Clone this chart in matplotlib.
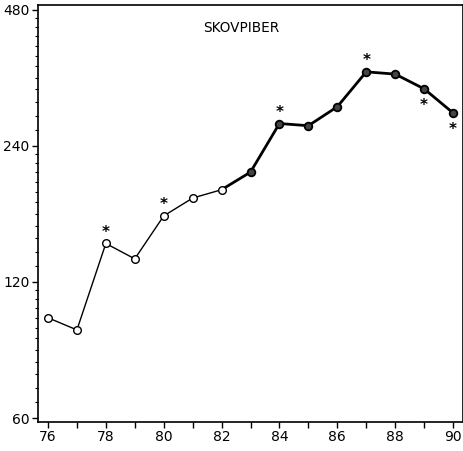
import matplotlib
matplotlib.use("Agg")
import matplotlib.pyplot as plt
from matplotlib.ticker import FixedLocator, NullFormatter
import numpy as np

years = [76, 77, 78, 79, 80, 81, 82, 83, 84, 85, 86, 87, 88, 89, 90]
values = [100, 94, 146, 135, 168, 184, 192, 210, 269, 266, 293, 350, 346, 321, 284]
star_years_above = [78, 80, 84, 87]
star_years_below = [89, 90]
title = "SKOVPIBER"
yticks = [60, 120, 240, 480]

fig = plt.figure(figsize=(4.64, 4.51), dpi=100)
ax = fig.add_axes([38/464, 1-422/451, (463-38)/464, (422-5)/451])
ax.set_yscale("log")
ax.set_xlim(75.655, 90.345)
ax.set_ylim(58.8, 492)

yr = np.array(years)
vals = np.array(values, dtype=float)
split = years.index(82)
ax.plot(yr[:split+1], vals[:split+1], color="black", lw=1.0, zorder=2)
ax.plot(yr[split:], vals[split:], color="black", lw=2.0, zorder=2)
ax.plot(yr[:split+1], vals[:split+1], ls="none", marker="o", ms=5.5,
        mfc="white", mec="black", mew=1.0, zorder=3)
ax.plot(yr[split+1:], vals[split+1:], ls="none", marker="o", ms=5.5,
        mfc="#444444", mec="black", mew=1.3, zorder=3)

for y in star_years_above:
    v = values[years.index(y)]
    ax.text(y, v * 2 ** (11/136), "*", ha="center", va="center", fontsize=11, fontweight="bold")
for y in star_years_below:
    v = values[years.index(y)]
    ax.text(y, v * 2 ** (-17/136), "*", ha="center", va="center", fontsize=11, fontweight="bold")

ax.text(0.479, 0.945, title, transform=ax.transAxes, ha="center", va="center",
        fontsize=9.8, family="DejaVu Sans")

ax.yaxis.set_major_locator(FixedLocator(yticks))
ax.set_yticklabels([str(t) for t in yticks])
minors = list(range(65, 120, 5)) + list(range(130, 240, 10)) + list(range(260, 480, 20))
ax.yaxis.set_minor_locator(FixedLocator(minors))
ax.yaxis.set_minor_formatter(NullFormatter())

ax.set_xticks(range(76, 91))
ax.set_xticklabels([str(y) if y % 2 == 0 else "" for y in range(76, 91)])

ax.tick_params(axis="both", which="major", direction="out", length=4, width=1,
               labelsize=10, pad=2)
ax.tick_params(axis="y", which="minor", direction="out", length=2, width=0.8)
for s in ax.spines.values():
    s.set_linewidth(1.2)

fig.savefig("out.png", dpi=100)
